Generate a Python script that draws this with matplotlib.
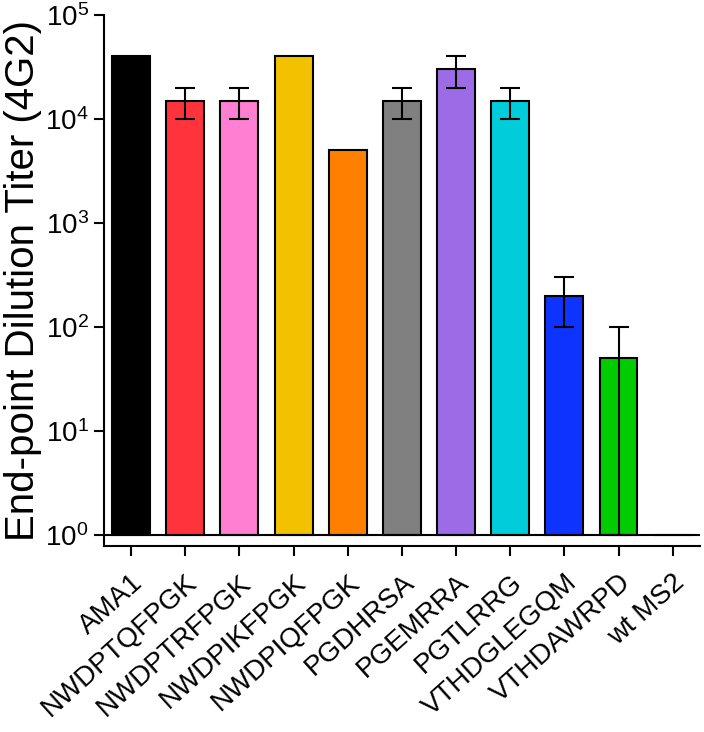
import numpy as np
import matplotlib
matplotlib.use("Agg")
import matplotlib.pyplot as plt

plt.rcParams['font.family'] = ['Liberation Sans', 'DejaVu Sans']

labels = ["AMA1", "NWDPTQFPGK", "NWDPTRFPGK", "NWDPIKFPGK", "NWDPIQFPGK",
          "PGDHRSA", "PGEMRRA", "PGTLRRG", "VTHDGLEGQM", "VTHDAWRPD", "wt MS2"]
titers = np.array([40000, 15000, 15000, 40000, 5000, 15000, 30000, 15000, 200, 50, 0])
errors = np.array([0, 5000, 5000, 0, 0, 5000, 10000, 5000, 100, 50, 0])
colors = ["#000000", "#FF333B", "#FF80D2", "#F2C200", "#FF8000", "#808080",
          "#9E6BE6", "#00CCDA", "#0F33FF", "#00CC00", "#FFFFFF"]

x = np.arange(len(labels))
heights = np.where(titers > 0, titers - 1, 0)
# lower error stops at the baseline (titer of 1)
err_low = np.minimum(errors, np.maximum(titers - 1, 0))

fig = plt.figure(figsize=(7.04, 7.32), dpi=100)
ax = fig.add_axes([0.1477, 0.254, 0.8463, 0.7255])

ax.bar(x, heights, bottom=1, width=0.7, color=colors, edgecolor="black", linewidth=1.5, zorder=2)
has_err = errors > 0
ax.errorbar(x[has_err], titers[has_err], yerr=[err_low[has_err], errors[has_err]],
            fmt="none", ecolor="black", elinewidth=1.5, capsize=7, capthick=1.5, zorder=3)
ax.axhline(1, color="black", linewidth=1.5, zorder=4)

ax.set_yscale("log")
ax.set_ylim(0.78, 1e5)
ax.set_xlim(-0.5, len(labels) - 0.5)
ax.set_yticks([1, 10, 100, 1000, 1e4, 1e5])
ax.minorticks_off()
ax.set_xticks(x)
ax.set_xticklabels(labels, rotation=42, ha="right", va="top", rotation_mode="anchor", fontsize=20)
ax.tick_params(axis="y", labelsize=20, length=7, width=1.5, direction="out", pad=4)
ax.tick_params(axis="x", length=7, width=1.5, direction="out", pad=10)
ax.set_ylabel("End-point Dilution Titer (4G2)", fontsize=29, labelpad=2)

for s in ["top", "right"]:
    ax.spines[s].set_visible(False)
for s in ["left", "bottom"]:
    ax.spines[s].set_linewidth(1.5)

fig.savefig("out.png", dpi=100)
